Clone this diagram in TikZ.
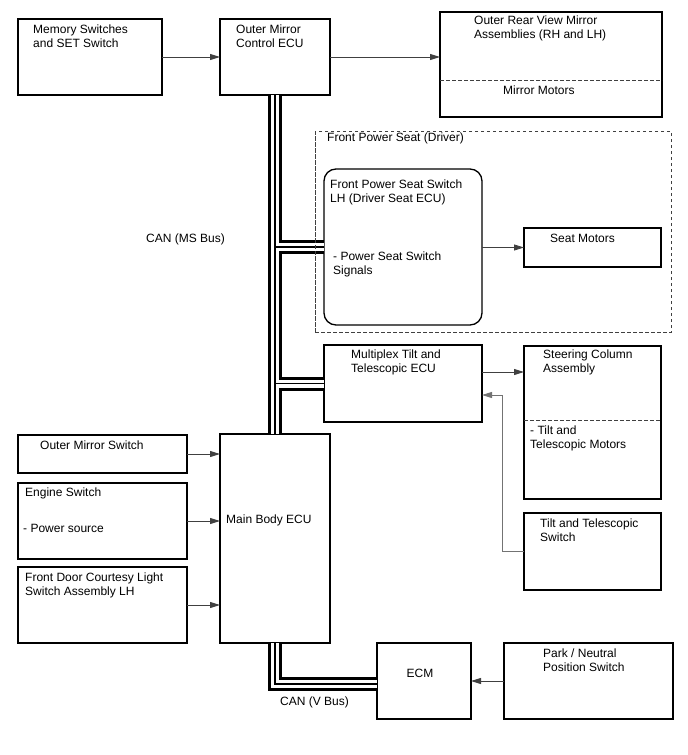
\documentclass[tikz,border=0pt]{standalone}
\usepackage{fontspec}
\setmainfont{Liberation Sans}
\usetikzlibrary{arrows.meta}
\newcommand\mybuspaths[1]{%
  \draw[#1] (omc.south) -- (mbe.north);
  \draw[#1] (fps.west -| omc.south) -- (fps.west);
  \draw[#1] (mtt.west -| omc.south) -- (mtt.west);
  \draw[#1] (mbe.south) |- ([yshift=-3pt]ecm.west);
}
\begin{document}
\begin{tikzpicture}[x=1pt,y=-1pt,
  box/.style={draw=black,line width=1.3pt,inner sep=0,outer sep=0},
  txt/.style={anchor=west,inner sep=0,align=left,font=\fontsize{12}{14}\selectfont},
  arr/.style={draw=black!75,line width=0.9pt,-{Triangle[length=10pt,width=6pt]}},
  dsh/.style={draw=black!75,line width=1pt,dash pattern=on 3.5pt off 2.5pt},
]
\useasboundingbox (0,0) rectangle (688,755);

% boxes
\node[box,minimum width=144pt,minimum height=76pt] (mem) at (90,57) {};
\node[box,minimum width=110pt,minimum height=76pt] (omc) at (275,57) {};
\node[box,minimum width=222pt,minimum height=105pt] (mra) at (551,64.5) {};
\node[dsh,inner sep=0,outer sep=0,minimum width=356pt,minimum height=201pt] (fpsd) at (493,231.5) {};
\node[box,rounded corners=12pt,minimum width=158pt,minimum height=156pt] (fps) at (403,247) {};
\node[box,minimum width=137pt,minimum height=39pt] (sm) at (592.5,247.5) {};
\node[box,minimum width=158pt,minimum height=77pt] (mtt) at (403,383.5) {};
\node[box,minimum width=137pt,minimum height=153pt] (sca) at (592.5,422.5) {};
\node[box,minimum width=137pt,minimum height=77pt] (tts) at (592.5,551.5) {};
\node[box,minimum width=169pt,minimum height=38pt] (oms) at (102.5,454) {};
\node[box,minimum width=169pt,minimum height=76pt] (eng) at (102.5,521) {};
\node[box,minimum width=169pt,minimum height=76pt] (fdc) at (102.5,605) {};
\node[box,minimum width=110pt,minimum height=209pt] (mbe) at (275,538.5) {};
\node[box,minimum width=94pt,minimum height=76pt] (ecm) at (424,681) {};
\node[box,minimum width=169pt,minimum height=76pt] (pns) at (588.5,681) {};

% dividers
\draw[dsh] ([yshift=-68pt]mra.north west) -- ([yshift=-68pt]mra.north east);
\draw[dsh] ([yshift=-74pt]sca.north west) -- ([yshift=-74pt]sca.north east);

% CAN buses (three layers)
\mybuspaths{black,line width=14pt,line join=miter}
\mybuspaths{white,line width=8pt,line join=miter}
\mybuspaths{black,line width=1.5pt,line join=miter}

% redraw dashed frame edge over bus
\draw[dsh] (fpsd.north west) -- (fpsd.south west);

% texts
\node[txt] (tmem) at (33,36) {Memory Switches\\and SET Switch};
\node[txt] (tomc) at (236,36) {Outer Mirror\\Control ECU};
\node[txt] (tmra) at (474,28.5) {Outer Rear View Mirror\\Assemblies (RH and LH)};
\node[txt] (tmm) at (503,90) {Mirror Motors};
\node[txt] (tfpsd) at (327,138) {Front Power Seat (Driver)};
\node[txt] (tfps) at (330,192) {Front Power Seat Switch\\LH (Driver Seat ECU)};
\node[txt] (tfps2) at (333,264) {- Power Seat Switch\\Signals};
\node[txt] (tsm) at (550,238) {Seat Motors};
\node[txt] (tmtt) at (351,362) {Multiplex Tilt and\\Telescopic ECU};
\node[txt] (tsca) at (543,362) {Steering Column\\Assembly};
\node[txt] (tsca2) at (530,438.5) {- Tilt and\\Telescopic Motors};
\node[txt] (ttts) at (540,530) {Tilt and Telescopic\\Switch};
\node[txt] (toms) at (40,445) {Outer Mirror Switch};
\node[txt] (teng) at (25,493) {Engine Switch};
\node[txt] (teng2) at (23,528) {- Power source};
\node[txt] (tfdc) at (25,585) {Front Door Courtesy Light\\Switch Assembly LH};
\node[txt] (tmbe) at (226,520) {Main Body ECU};
\node[txt] (tcanms) at (146,239) {CAN (MS Bus)};
\node[txt,anchor=center] (tecm) at (420,673) {ECM};
\node[txt] (tpns) at (543,660) {Park / Neutral\\Position Switch};
\node[txt] (tcanv) at (280,702) {CAN (V Bus)};

% arrows
\draw[arr] (mem.east) -- (omc.west);
\draw[arr] (omc.east) -- (omc.east -| mra.west);
\draw[arr] (sm.west -| fps.east) -- (sm.west);
\draw[arr] ([yshift=-27pt]mtt.north east) -- ([yshift=-27pt]mtt.north east -| sca.west);
\draw[arr,draw=black!55] (tts.west) -- ++(-22,0) |- ([yshift=-50pt]mtt.north east);
\draw[arr] (oms.east) -- (oms.east -| mbe.west);
\draw[arr] (eng.east) -- (eng.east -| mbe.west);
\draw[arr] (fdc.east) -- (fdc.east -| mbe.west);
\draw[arr] (pns.west) -- (ecm.east);
\end{tikzpicture}
\end{document}
